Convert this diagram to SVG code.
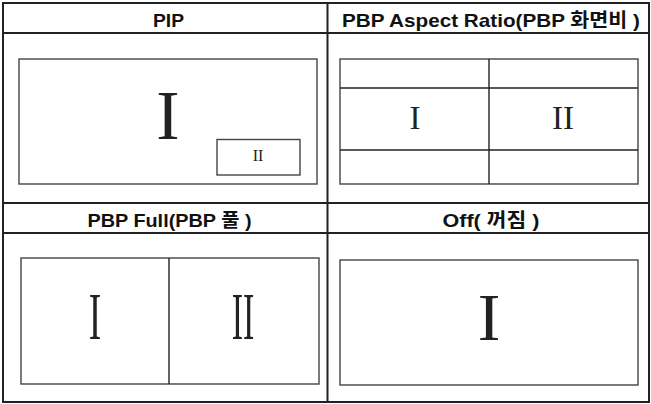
<svg xmlns="http://www.w3.org/2000/svg" width="651" height="404" viewBox="0 0 651 404">
<style>
.grid{fill:none;stroke:#222;stroke-width:2}
.box{fill:none;stroke:#444;stroke-width:1.4}
.dark{stroke:#222}
.hdr{font-family:"Liberation Sans","Noto Sans CJK KR",sans-serif;font-weight:bold;font-size:19px;fill:#111;text-anchor:middle}
.num{font-family:"Liberation Serif","DejaVu Serif",serif;fill:#222;text-anchor:middle}
</style>
<rect x="0" y="0" width="651" height="404" fill="#fff"/>
<g id="table">
<rect class="grid" x="3" y="3" width="646" height="399"/>
<line class="grid" x1="327.5" y1="3" x2="327.5" y2="402"/>
<line class="grid" x1="3" y1="33" x2="649" y2="33"/>
<line class="grid" x1="3" y1="203" x2="649" y2="203"/>
<line class="grid" x1="3" y1="233" x2="649" y2="233"/>
</g>
<g id="pip">
<text class="hdr" x="168.5" y="27" textLength="31" lengthAdjust="spacingAndGlyphs">PIP</text>
<rect class="box" x="19" y="59" width="298" height="125"/>
<text class="num" x="168" y="139" font-size="70">I</text>
<rect class="box" x="217" y="139.5" width="83" height="35.5"/>
<text class="num" x="258" y="161" font-size="16">II</text>
</g>
<g id="pbp-aspect">
<text class="hdr" x="491" y="27" textLength="298" lengthAdjust="spacingAndGlyphs">PBP Aspect Ratio(PBP 화면비 )</text>
<rect class="box" x="340" y="59" width="298" height="125"/>
<line class="box dark" x1="489" y1="59" x2="489" y2="184"/>
<line class="box dark" x1="340" y1="88" x2="638" y2="88"/>
<line class="box dark" x1="340" y1="150" x2="638" y2="150"/>
<text class="num" x="415" y="129" font-size="33">I</text>
<text class="num" x="563" y="129" font-size="33">II</text>
</g>
<g id="pbp-full">
<text class="hdr" x="169.5" y="227" textLength="164" lengthAdjust="spacingAndGlyphs">PBP Full(PBP 풀 )</text>
<rect class="box" x="21" y="258" width="298" height="126"/>
<line class="box dark" x1="169" y1="258" x2="169" y2="384"/>
<text class="num" font-size="68" transform="translate(95,339) scale(0.55,1)" x="0" y="0">I</text>
<text class="num" font-size="68" transform="translate(243,339) scale(0.5,1)" x="0" y="0">II</text>
</g>
<g id="off">
<text class="hdr" x="491" y="227" textLength="97" lengthAdjust="spacingAndGlyphs">Off( 꺼짐 )</text>
<rect class="box" x="340" y="260" width="298" height="125"/>
<text class="num" x="489" y="340" font-size="68">I</text>
</g>
</svg>
